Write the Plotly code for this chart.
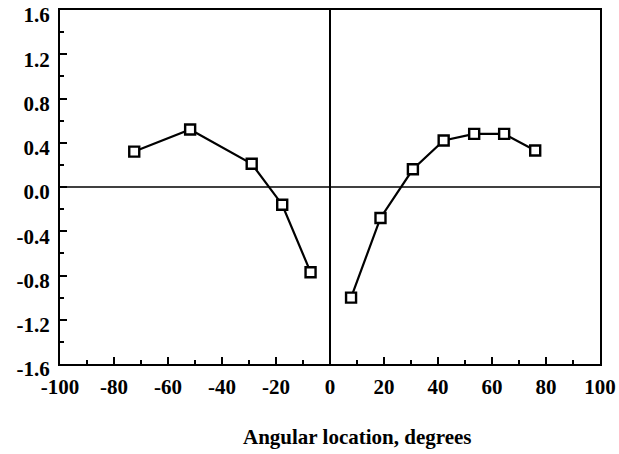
import plotly.graph_objects as go

# Angular location (degrees) and measured value on each side of the centreline
left_angle = [-72.5, -51.8, -29.0, -17.7, -7.2]
left_value = [0.32, 0.52, 0.21, -0.16, -0.77]

right_angle = [7.8, 18.7, 30.7, 42.1, 53.4, 64.5, 76.0]
right_value = [-1.00, -0.28, 0.16, 0.42, 0.48, 0.48, 0.33]

x_ticks = [-100, -80, -60, -40, -20, 0, 20, 40, 60, 80, 100]
y_ticks = [-1.6, -1.2, -0.8, -0.4, 0.0, 0.4, 0.8, 1.2, 1.6]

font_family = "Liberation Serif, Times New Roman, serif"

fig = go.Figure()
for xs, ys in [(left_angle, left_value), (right_angle, right_value)]:
    fig.add_trace(go.Scatter(
        x=xs, y=ys, mode="lines+markers",
        line=dict(color="black", width=2.2),
        marker=dict(symbol="square", size=10, color="white",
                    line=dict(color="black", width=2.4)),
        showlegend=False,
    ))

# Cross-hair lines through the origin
fig.add_shape(type="line", xref="x", yref="paper", x0=0, x1=0, y0=0, y1=1,
              line=dict(color="black", width=2), layer="below")
fig.add_shape(type="line", xref="paper", yref="y", x0=0, x1=1, y0=0, y1=0,
              line=dict(color="black", width=1.5), layer="below")

tick_font = dict(family=font_family, size=21, color="black", weight="bold")

fig.update_xaxes(
    range=[-100, 100], tickvals=x_ticks,
    ticktext=[str(v) for v in x_ticks],
    ticks="inside", ticklen=7, tickwidth=2, tickcolor="black",
    minor=dict(dtick=10, ticks="inside", ticklen=4, tickwidth=2, tickcolor="black"),
    showline=True, linecolor="black", linewidth=2, mirror=True,
    showgrid=False, zeroline=False, automargin=False,
    ticklabelstandoff=3, ticklabeloverflow="allow",
    tickfont=tick_font,
)
fig.update_yaxes(
    range=[-1.6, 1.6], tickvals=y_ticks,
    ticktext=["-1.6", "-1.2", "-0.8", "-0.4", "0.0", "0.4", "0.8", "1.2", "1.6"],
    ticks="inside", ticklen=7, tickwidth=2, tickcolor="black",
    minor=dict(dtick=0.2, tick0=0, ticks="inside", ticklen=4, tickwidth=2, tickcolor="black"),
    showline=True, linecolor="black", linewidth=2, mirror=True,
    showgrid=False, zeroline=False, automargin=False,
    ticklabelstandoff=4, ticklabelshift=5, ticklabeloverflow="allow",
    tickfont=tick_font,
)

# Axis caption, set slightly right of the plot centre
fig.add_annotation(
    text="Angular location, degrees", xref="paper", yref="paper",
    x=0.55, y=-0.205, xanchor="center", yanchor="middle", showarrow=False,
    font=dict(family=font_family, size=21, color="black", weight="bold"),
)

fig.update_layout(
    width=619, height=454,
    margin=dict(l=60, r=19, t=10, b=90),
    paper_bgcolor="white", plot_bgcolor="white",
)

fig.write_html("out.html")
